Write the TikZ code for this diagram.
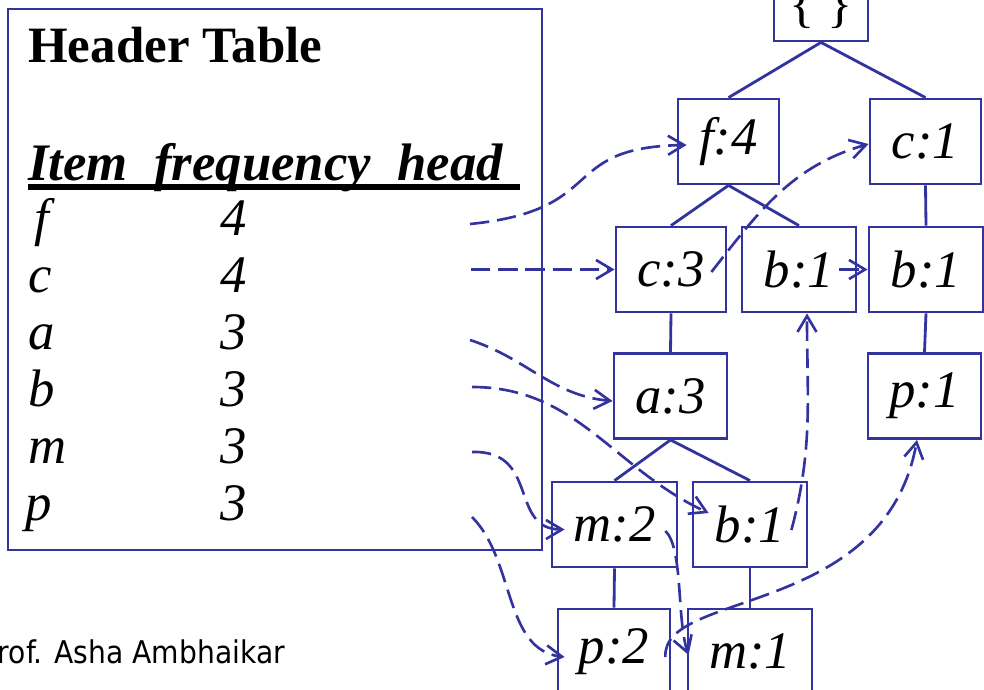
\documentclass[tikz,border=0pt]{standalone}
\usepackage{fontspec}
\setmainfont{Liberation Serif}
\newfontfamily\creditfont[FakeStretch=0.9]{DejaVu Sans}
\usetikzlibrary{arrows.meta}

\newcommand{\bigtext}{\fontsize{30pt}{32pt}\selectfont}

\begin{document}
\begin{tikzpicture}[
  >={Straight Barb[length=3.2mm,width=3.8mm]},
  fpnode/.style={draw=treeblue, line width=1.6pt, minimum width=#1, minimum height=1.7cm,
                 inner sep=0pt, font=\bigtext\itshape},
  hcell/.style={anchor=base west, inner sep=0pt, font=\bigtext\itshape},
  fpedge/.style={treeblue, line width=1.6pt},
  fplink/.style={->, treeblue, line width=1.5pt, dash pattern=on 11pt off 4.5pt},
]
\definecolor{treeblue}{HTML}{3333A0}
\useasboundingbox (0,0) rectangle (19.68,-13.8);

% ---- header table ----
\node[draw=treeblue, line width=1.6pt, minimum width=10.68cm, minimum height=10.82cm, inner sep=0pt] (htab) at (5.5,-5.59) {};
\node[anchor=base west, inner sep=0pt, font=\fontsize{29pt}{32pt}\selectfont\bfseries] (title) at (0.56,-1.26) {Header Table};
\node[anchor=base west, inner sep=0pt, font=\bigtext\bfseries\itshape] (colhead) at (0.56,-3.6) {Item\ \ frequency\ \ head};
\draw[line width=3pt] ([yshift=-0.14cm]colhead.base west) -- ++(9.84,0);

\node[hcell] (itf) at (0.68,-4.70) {f};
\node[hcell] (itc) at (0.56,-5.84) {c};
\node[hcell] (ita) at (0.56,-6.98) {a};
\node[hcell] (itb) at (0.56,-8.12) {b};
\node[hcell] (itm) at (0.56,-9.26) {m};
\node[hcell] (itp) at (0.50,-10.40) {p};
\node[hcell] (frf) at (4.4,-4.70) {4};
\node[hcell] (frc) at (4.4,-5.84) {4};
\node[hcell] (fra) at (4.4,-6.98) {3};
\node[hcell] (frb) at (4.4,-8.12) {3};
\node[hcell] (frm) at (4.4,-9.26) {3};
\node[hcell] (frp) at (4.4,-10.40) {3};

\coordinate (hdf) at (9.40,-4.48);
\coordinate (hdc) at (9.42,-5.39);
\coordinate (hda) at (9.40,-6.80);
\coordinate (hdb) at (9.44,-7.74);
\coordinate (hdm) at (9.44,-9.04);
\coordinate (hdp) at (9.44,-10.34);

% ---- FP-tree ----
\node[fpnode=1.88cm, font=\bigtext\upshape, text height=1.1cm, text depth=0.17cm] (root) at (16.42,0.03) {\{ \}};
\node[fpnode=2.02cm] (f4) at (14.57,-2.83) {f:4};
\node[fpnode=2.22cm] (c1) at (18.51,-2.83) {c:1};
\node[fpnode=2.20cm] (c3) at (13.42,-5.39) {c:3};
\node[fpnode=2.28cm] (b1a) at (15.98,-5.39) {b:1};
\node[fpnode=2.28cm] (b1b) at (18.52,-5.39) {b:1};
\node[fpnode=2.26cm] (a3) at (13.41,-7.92) {a:3};
\node[fpnode=2.26cm] (p1) at (18.49,-7.92) {p:1};
\node[fpnode=2.50cm] (m2) at (12.29,-10.49) {m:2};
\node[fpnode=2.28cm] (b1c) at (15.00,-10.49) {b:1};
\node[fpnode=2.24cm] (p2) at (12.28,-13.03) {p:2};
\node[fpnode=2.48cm] (m1) at (15.00,-13.03) {m:1};

\draw[fpedge] (root.south) -- (f4.north);
\draw[fpedge] (root.south) -- (c1.north);
\draw[fpedge] (f4.south) -- (c3.north);
\draw[fpedge] (f4.south) -- (b1a.north);
\draw[fpedge] (c1.south) -- (b1b.north);
\draw[fpedge] (c3.south) -- (a3.north);
\draw[fpedge] (b1b.south) -- (p1.north);
\draw[fpedge] (a3.south) -- (m2.north);
\draw[fpedge] (a3.south) -- (b1c.north);
\draw[fpedge] (m2.south) -- (p2.north);
\draw[fpedge] (b1c.south) -- (m1.north);

% ---- head links ----
\draw[fplink] (hdf) .. controls +(2.8,0.28) and +(-2.6,-0.04) .. ([xshift=2mm,yshift=-0.07cm]f4.west);
\draw[fplink] (hdc) -- (c3.west);
\draw[fplink] (hda) to[out=-18,in=175] ([yshift=-0.1cm]a3.west);
\draw[fplink] (hdb) to[out=0,in=155] ([xshift=3.4mm,yshift=2.3mm]b1c.west);
\draw[fplink] (hdm) .. controls +(1.36,0.04) and +(-1.12,0) .. ([xshift=2.8mm,yshift=-1mm]m2.west);
\draw[fplink] (hdp) .. controls +(0.86,-0.86) and +(-1.22,0.14) .. ([xshift=1.6mm,yshift=-1.1mm]p2.west);

% ---- node links ----
\draw[fplink] ([xshift=-3.2mm,yshift=-0.05cm]c3.east) to[out=52,in=196] ([yshift=-0.05cm]c1.west);
\draw[fplink] ([xshift=-3.6mm]b1a.east) -- (b1b.west);
\draw[fplink] ([xshift=-3.4mm,yshift=-1.1mm]b1c.east) to[out=75,in=-90] ([xshift=1.6mm]b1a.south);
\draw[fplink] ([xshift=-1.2mm,yshift=-1.1mm]p2.east) .. controls +(-0.08,1.34) and +(-0.64,-3.56) .. ([xshift=-1.5mm]p1.south);
\draw[fplink] ([xshift=-2.6mm,yshift=-1.3mm]m2.east) .. controls +(0.36,-0.34) and +(-0.24,0.70) .. ([xshift=0.4mm,yshift=-0.7mm]m1.west);

\node[anchor=base west, inner sep=0pt, font=\creditfont\fontsize{17.8pt}{20pt}\selectfont] (credit) at (-0.38,-13.26) {Prof. Asha Ambhaikar};
\end{tikzpicture}
\end{document}
